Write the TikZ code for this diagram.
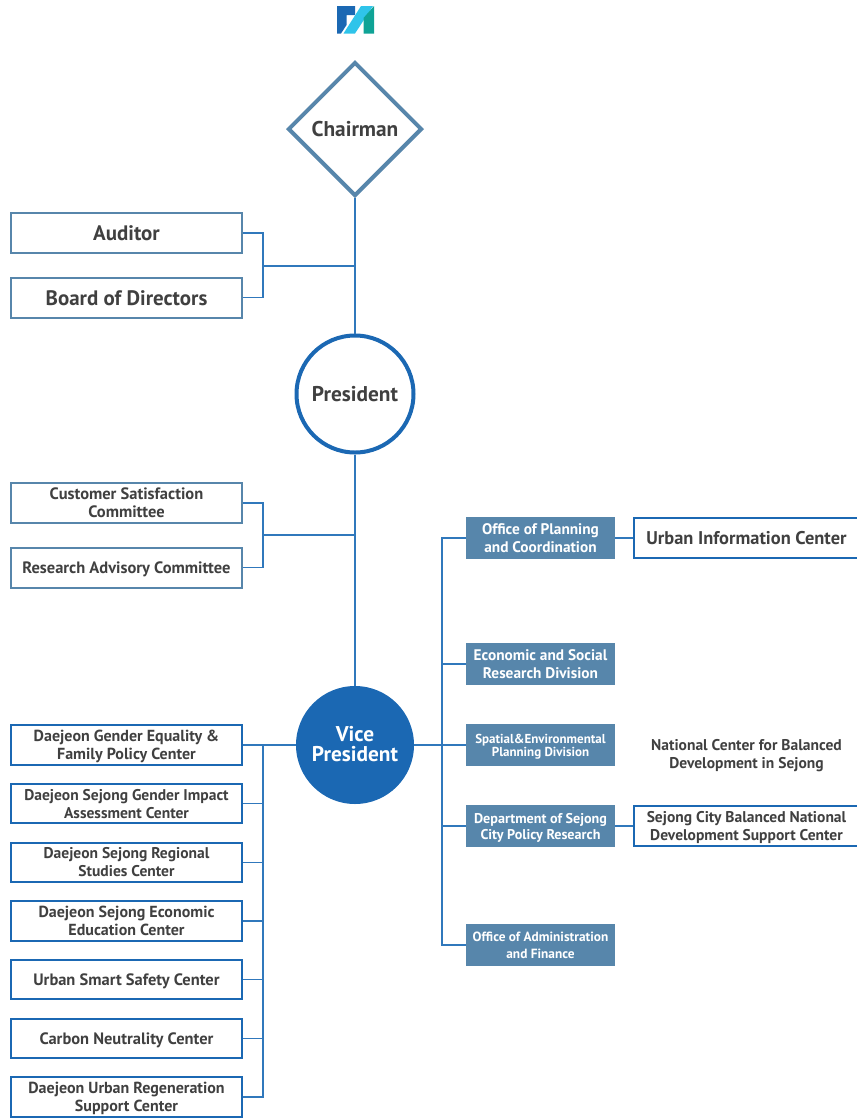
\documentclass[tikz,border=0pt]{standalone}
\usepackage{fontspec}
\setmainfont{PT Sans}[BoldFont=* Bold]
\usetikzlibrary{positioning,calc,shapes.geometric}
\definecolor{steelc}{HTML}{5786AB}
\definecolor{bluec}{HTML}{1B68B3}
\definecolor{linec}{HTML}{3078BC}
\definecolor{textc}{HTML}{404040}
\definecolor{logoa}{HTML}{1B68B3}
\definecolor{logob}{HTML}{2FC4EA}
\definecolor{logoc}{HTML}{0FA396}
\begin{document}
\begin{tikzpicture}[x=0.75pt,y=-0.75pt,node distance=12.9pt,
    conn/.style={draw=linec,line width=0.8pt},
    lbox/.style={draw=bluec,fill=white,line width=1.5pt,text=textc,inner sep=0pt,align=center,text depth=-1.5pt,font=\bfseries\fontsize{12}{13.5}\selectfont,minimum width=173.25pt,minimum height=29.6pt},
    wide/.style={font=\bfseries\fontsize{12.35}{13.5}\selectfont},
    tight/.style={font=\bfseries\fontsize{11.65}{13.5}\selectfont},
    topbox/.style={lbox,draw=steelc},
    dbox/.style={fill=steelc,text=white,inner sep=0pt,align=center,text depth=0pt,font=\bfseries\fontsize{11.5}{12.8}\selectfont,minimum width=111.75pt,minimum height=31.5pt},
    rbox/.style={lbox,minimum width=169.5pt}]
%
   \useasboundingbox (0,0) rectangle (857,1118);
   \fill[logoa] (337,6) -- (355,6) -- (355,15) -- (346.5,15) -- (346.5,25) -- (341,33.5) -- (337,33.5) -- cycle;
   \fill[logob] (361,6) -- (373,6) -- (355,33.5) -- (343.5,33.5) -- cycle;
   \fill[logoc] (374,6) -- (374,33.5) -- (363.5,33.5) -- (363.5,18) -- cycle;
%
   \node[diamond,draw=steelc,fill=white,line width=3pt,text=textc,inner sep=0pt,minimum width=100.5pt,minimum height=100.5pt,font=\bfseries\fontsize{16}{17}\selectfont] (Ch) at (355,129) {Chairman};
   \node[circle,draw=bluec,fill=white,line width=3pt,text=textc,inner sep=0pt,minimum size=87.75pt,font=\bfseries\fontsize{16}{17}\selectfont] (Pres) at (355,394) {President};
   \node[circle,fill=bluec,text=white,inner sep=0pt,minimum size=88.5pt,align=center,text depth=1.5pt,font=\bfseries\fontsize{16}{15}\selectfont] (Vice) at (355,745) {Vice\\President};
%
   \node[topbox,font=\bfseries\fontsize{15.7}{17}\selectfont] (Aud) at (126.5,233) {Auditor};
   \node[topbox,font=\bfseries\fontsize{15.7}{17}\selectfont,text depth=0pt,below=17.6pt of Aud] (Bd) {Board of Directors};
   \node[topbox,wide] (Cs) at (126.5,503) {Customer Satisfaction\\Committee};
   \node[topbox,wide,below=17.6pt of Cs] (Ra) {Research Advisory Committee};
%
   \node[lbox] (L1) at (126.5,745) {Daejeon Gender Equality \&\\Family Policy Center};
   \node[lbox,tight,below=of L1] (L2) {Daejeon Sejong Gender Impact\\Assessment Center};
   \node[lbox,tight,below=of L2] (L3) {Daejeon Sejong Regional\\Studies Center};
   \node[lbox,below=of L3] (L4) {Daejeon Sejong Economic\\Education Center};
   \node[lbox,wide,below=of L4] (L5) {Urban Smart Safety Center};
   \node[lbox,wide,below=of L5] (L6) {Carbon Neutrality Center};
   \node[lbox,below=of L6] (L7) {Daejeon Urban Regeneration\\Support Center};
%
   \node[dbox] (R1) at (540.5,538) {Office of Planning\\and Coordination};
   \node[dbox] (R2) at (540.5,664) {Economic and Social\\Research Division};
   \node[dbox,font=\bfseries\fontsize{9.75}{9.75}\selectfont] (R3) at (540.5,745) {Spatial\&Environmental\\Planning Division};
   \node[dbox,font=\bfseries\fontsize{10.6}{12}\selectfont] (R4) at (540.5,826) {Department of Sejong\\City Policy Research};
   \node[dbox,font=\bfseries\fontsize{10}{12.8}\selectfont] (R5) at (540.5,945) {Office of Administration\\and Finance};
%
   \node[rbox,text depth=0pt,font=\bfseries\fontsize{13.8}{17}\selectfont] (U1) at (746.5,538) {Urban Information Center};
   \node[text=textc,align=center,inner sep=0pt,text depth=0pt,tight] (N1) at (746.5,754) {National Center for Balanced\\Development in Sejong};
   \node[rbox,tight] (S1) at (746.5,826) {Sejong City Balanced National\\Development Support Center};
%
   \coordinate (J1) at (263,266);
   \coordinate (J2) at (263,535);
   \coordinate (J3) at (263,745);
   \coordinate (J4) at (442,745);
%
   \path[conn] (Ch.south) -- (Pres.north);
   \path[conn] (Pres.south) -- (Vice.north);
   \path[conn] (Aud.east) -| (J1);
   \path[conn] (Bd.east) -| (J1);
   \path[conn] (J1) -- (J1 -| Ch.south);
   \path[conn] (Cs.east) -| (J2);
   \path[conn] (Ra.east) -| (J2);
   \path[conn] (J2) -- (J2 -| Ch.south);
   \path[conn] (L1.east) -- (Vice.west);
   \foreach \n in {2,...,7}
      \path[conn] (L\n.east) -| (J3);
   \path[conn] (Vice.east) -- (R3.west);
   \foreach \n in {1,2,4,5}
      \path[conn] (R\n.west) -| (J4);
   \path[conn] (R1.east) -- (U1.west);
   \path[conn] (R4.east) -- (S1.west);
\end{tikzpicture}
\end{document}
